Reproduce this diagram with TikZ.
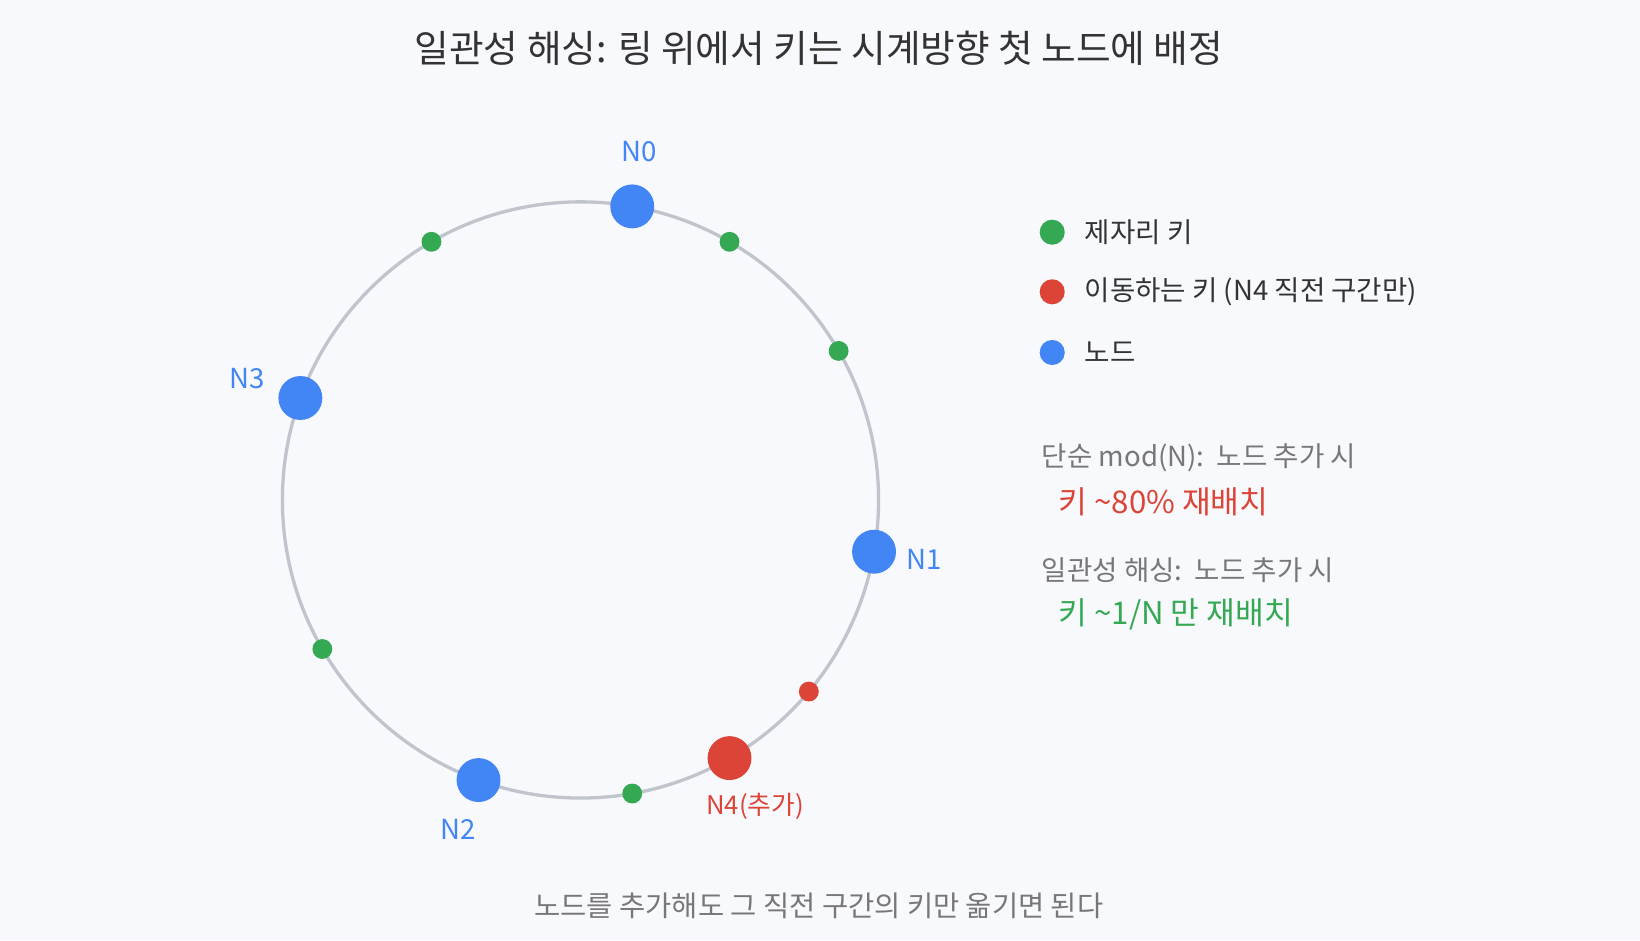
\documentclass[tikz,border=0pt]{standalone}
\usepackage{fontspec}
\setmainfont{Noto Sans CJK KR}
\usetikzlibrary{positioning,calc}
\definecolor{nodeblue}{HTML}{4285F4}
\definecolor{keygreen}{HTML}{34A853}
\definecolor{keyred}{HTML}{DB4437}
\definecolor{ringgray}{HTML}{C0C4CC}
\definecolor{bggray}{HTML}{F8F9FC}
\definecolor{txtdark}{HTML}{333333}
\definecolor{txtgray}{HTML}{777777}
\tikzstyle{server}=[circle,fill=nodeblue,minimum size=0.84cm,inner sep=0pt]
\tikzstyle{added server}=[server,fill=keyred]
\tikzstyle{key}=[circle,fill=keygreen,minimum size=0.38cm,inner sep=0pt]
\tikzstyle{moved key}=[key,fill=keyred]
\tikzstyle{legend dot}=[circle,minimum size=0.48cm,inner sep=0pt]
\tikzstyle{label text}=[font=\fontsize{15}{18}\selectfont]
\begin{document}
\begin{tikzpicture}[x=0.02cm,y=-0.02cm]
    % background and page size
    \fill[bggray] (0,0) rectangle (1568,899);
    \node[font=\fontsize{20.5}{24}\selectfont,text=txtdark] (title) at (783,46) {일관성 해싱: 링 위에서 키는 시계방향 첫 노드에 배정};
    % The ring
    \coordinate (c) at (555,478);
    \draw[ringgray,line width=1.8pt] (c) circle (285);
    % Keys on the ring
    \foreach \ang/\name in {-120/k1, -60/k2, -30/k3, 150/k4, 80/k5}
        \node[key] (\name) at ($(c)+(\ang:285)$) {};
    \node[moved key] (k6) at ($(c)+(40:285)$) {};
    % Nodes on the ring
    \foreach \ang/\name in {-80/N0, 10/N1, 110/N2, -160/N3}
        \node[server] (\name) at ($(c)+(\ang:285)$) {};
    \node[added server] (N4) at ($(c)+(60:285)$) {};
    % Node labels
    \node[label text,text=nodeblue] (lN0) at (611,145) {N0};
    \node[label text,text=nodeblue] (lN1) at (884,535) {N1};
    \node[label text,text=nodeblue] (lN2) at (438,793) {N2};
    \node[label text,text=nodeblue] (lN3) at (236,362) {N3};
    \node[font=\fontsize{14}{17}\selectfont,text=keyred] (lN4) at (722,771) {N4(추가)};
    % Legend
    \foreach \y/\col/\txt/\name in {222/keygreen/제자리 키/g1, 279/keyred/이동하는 키 (N4 직전 구간만)/g2, 337/nodeblue/노드/g3}
    {
        \node[legend dot,fill=\col] (\name) at (1006,\y) {};
        \node[label text,text=txtdark,anchor=west] (t\name) at (1031,\y) {\txt};
    }
    % Comparison notes
    \node[label text,text=txtgray,anchor=west] (m1) at (990,438) {단순 mod(N):\ \ 노드 추가 시};
    \node[font=\fontsize{17}{20}\selectfont,text=keyred,anchor=west] (m2) at (1006,480) {키 \textasciitilde80\% 재배치};
    \node[label text,text=txtgray,anchor=west] (m3) at (990,545) {일관성 해싱:\ \ 노드 추가 시};
    \node[font=\fontsize{17}{20}\selectfont,text=keygreen,anchor=west] (m4) at (1006,587) {키 \textasciitilde1/N 만 재배치};
    % Footer
    \node[font=\fontsize{15.5}{18}\selectfont,text=txtgray] (foot) at (783,866) {노드를 추가해도 그 직전 구간의 키만 옮기면 된다};
\end{tikzpicture}
\end{document}
